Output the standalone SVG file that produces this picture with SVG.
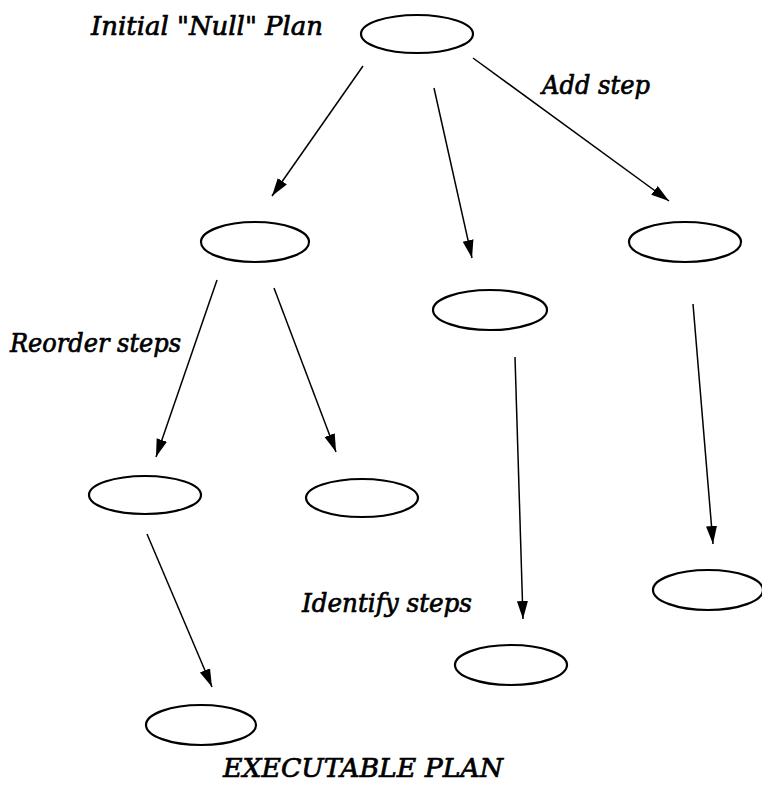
<svg xmlns="http://www.w3.org/2000/svg" width="762" height="787" viewBox="0 0 762 787">
<style>
.node{fill:none;stroke:#000;stroke-width:2.2}
.edge{fill:none;stroke:#000;stroke-width:1.5;marker-end:url(#ah)}
.lbl{font-family:"DejaVu Serif","Liberation Serif",serif;font-style:italic;font-size:26px;fill:#000;stroke:#000;stroke-width:0.7}
</style>
<defs>
<marker id="ah" markerUnits="userSpaceOnUse" markerWidth="20" markerHeight="12" refX="18" refY="5.5" orient="auto">
<path d="M0,0 L18,5.5 L0,11 z" fill="#000"/>
</marker>
</defs>
<rect width="762" height="787" fill="#fff"/>
<g id="edges">
<line class="edge" x1="363" y1="66" x2="272" y2="196"/>
<line class="edge" x1="434" y1="88" x2="472" y2="258"/>
<line class="edge" x1="473" y1="58" x2="669" y2="201"/>
<line class="edge" x1="217" y1="280" x2="156" y2="457"/>
<line class="edge" x1="274" y1="288" x2="336" y2="452"/>
<line class="edge" x1="515" y1="357" x2="523" y2="619"/>
<line class="edge" x1="693" y1="304" x2="713" y2="544"/>
<line class="edge" x1="147" y1="534" x2="212" y2="687"/>
</g>
<g id="n-root"><ellipse class="node" cx="417" cy="34" rx="56" ry="19"/></g>
<g id="n-a"><ellipse class="node" cx="255" cy="242" rx="54" ry="20"/></g>
<g id="n-b"><ellipse class="node" cx="490" cy="310" rx="57" ry="20"/></g>
<g id="n-c"><ellipse class="node" cx="685" cy="242" rx="56" ry="20"/></g>
<g id="n-a1"><ellipse class="node" cx="145" cy="495" rx="56" ry="19"/></g>
<g id="n-a2"><ellipse class="node" cx="362" cy="498" rx="56" ry="19"/></g>
<g id="n-b1"><ellipse class="node" cx="511" cy="665" rx="56" ry="20"/></g>
<g id="n-c1"><ellipse class="node" cx="708" cy="590" rx="55" ry="20"/></g>
<g id="n-a11"><ellipse class="node" cx="201" cy="725" rx="55" ry="20"/></g>
<g id="labels">
<text class="lbl" x="91" y="35" textLength="232" lengthAdjust="spacingAndGlyphs">Initial "Null" Plan</text>
<text class="lbl" x="542" y="94" textLength="108" lengthAdjust="spacingAndGlyphs">Add step</text>
<text class="lbl" x="10" y="352" textLength="171" lengthAdjust="spacingAndGlyphs">Reorder steps</text>
<text class="lbl" x="302" y="612" textLength="170" lengthAdjust="spacingAndGlyphs">Identify steps</text>
<text class="lbl" x="223" y="777" textLength="280" lengthAdjust="spacingAndGlyphs">EXECUTABLE PLAN</text>
</g>
</svg>
